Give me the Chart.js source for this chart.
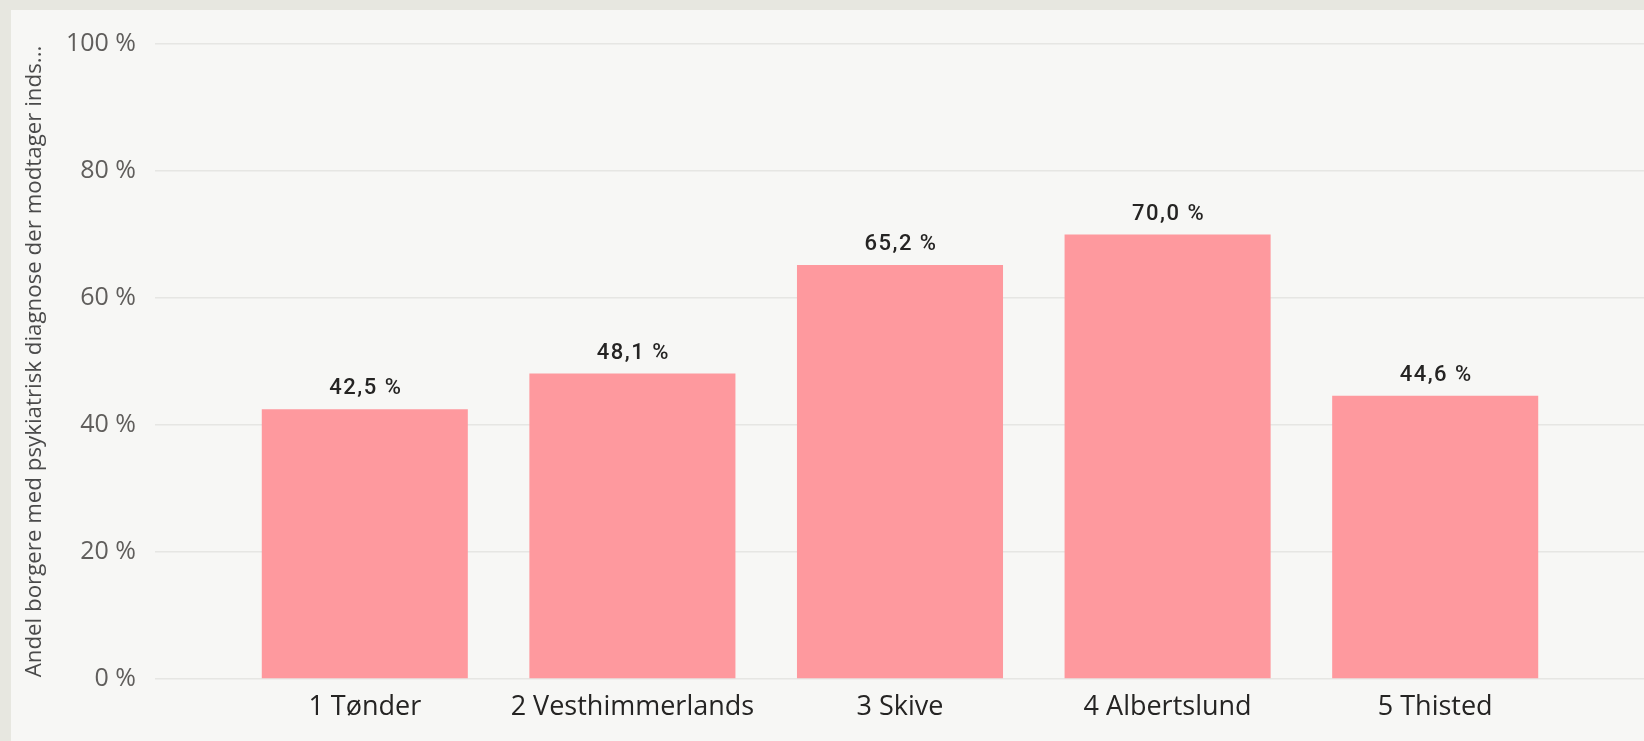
<!DOCTYPE html>
<html>
<head>
<meta charset="utf-8">
<script src="https://cdn.jsdelivr.net/npm/chart.js@4/dist/chart.umd.min.js"></script>
<style>
  html, body { margin: 0; padding: 0; background: #e7e7e0; }
  #panel { position: absolute; left: 11px; top: 10px; width: 1633px; height: 731px; background: #f7f7f5; }
</style>
</head>
<body>
<div id="panel"><canvas id="chart"></canvas></div>
<script>
const categories = ['1 Tønder', '2 Vesthimmerlands', '3 Skive', '4 Albertslund', '5 Thisted']
const shares = [42.5, 48.1, 65.2, 70.0, 44.6]
const yTicks = [0, 20, 40, 60, 80, 100]
const yTitle = 'Andel borgere med psykiatrisk diagnose der modtager inds...'

const fmt = v => v.toFixed(1).replace('.', ',') + ' %'
const gridColor = '#e6e6e3'
const uiFont = "'Segoe UI', 'Open Sans', sans-serif"

// value labels above each bar
const barLabels = {
  id: 'barLabels',
  afterDatasetsDraw(chart) {
    const { ctx } = chart
    const meta = chart.getDatasetMeta(0)
    ctx.save()
    ctx.font = '500 22px Roboto'
    ctx.letterSpacing = '1.5px'
    ctx.fillStyle = '#252423'
    ctx.textAlign = 'center'
    ctx.textBaseline = 'alphabetic'
    meta.data.forEach((bar, i) => {
      ctx.fillText(fmt(shares[i]), bar.x + 1, bar.y - 15)
    })
    ctx.restore()
  }
}

new Chart(document.getElementById('chart'), {
  type: 'bar',
  data: {
    labels: categories,
    datasets: [{
      data: shares,
      backgroundColor: '#fe999e',
      barPercentage: 0.77,
      categoryPercentage: 1,
    }],
  },
  options: {
    responsive: true,
    maintainAspectRatio: false,
    animation: false,
    layout: { padding: { top: 30, left: 0, right: 0, bottom: 0 } },
    plugins: {
      legend: { display: false },
      tooltip: { enabled: false },
    },
    scales: {
      x: {
        grid: { display: false },
        border: { display: false },
        ticks: { color: '#252423', font: { family: uiFont, size: 27 }, padding: 4, maxRotation: 0 },
        afterFit: s => { s.height = 62 },
      },
      y: {
        min: 0,
        max: 100,
        afterBuildTicks: s => { s.ticks = yTicks.map(v => ({ value: v })) },
        grid: { color: gridColor, lineWidth: 1.5, tickLength: 76 },
        border: { display: false },
        ticks: { color: '#605e5c', font: { family: uiFont, size: 25 }, padding: 19, callback: v => v + ' %' },
        title: {
          display: true,
          text: yTitle,
          color: '#4a4a4a',
          font: { family: uiFont, size: 22.3 },
          padding: { top: 10, bottom: 4 },
        },
        afterFit: s => { s.width = 220 },
      },
      y2: {
        position: 'right',
        min: 0,
        max: 100,
        afterBuildTicks: s => { s.ticks = yTicks.map(v => ({ value: v })) },
        grid: { color: gridColor, lineWidth: 1.5, tickLength: 75, drawOnChartArea: false },
        border: { display: false },
        ticks: { display: false },
      },
    },
  },
  plugins: [barLabels],
})
</script>
</body>
</html>
